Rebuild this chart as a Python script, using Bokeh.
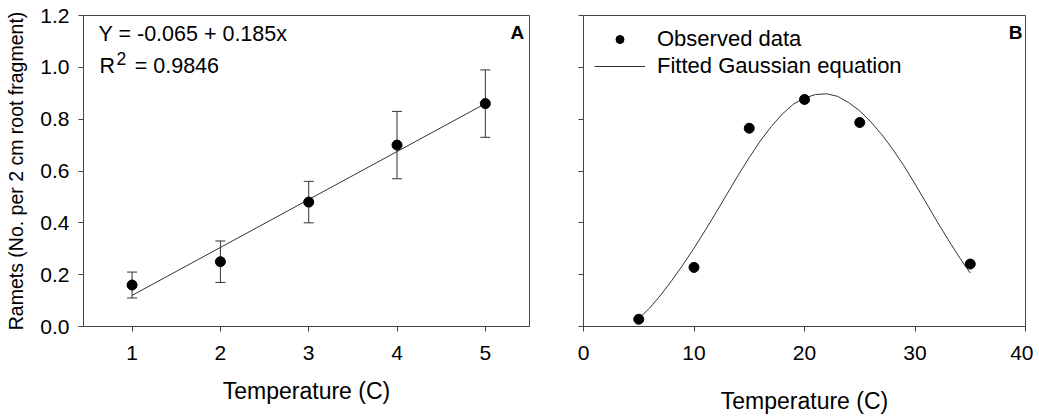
from bokeh.plotting import figure
from bokeh.models import (ColumnDataSource, Whisker, TeeHead, Label, Legend, LegendItem,
                          FixedTicker, NumeralTickFormatter, Range1d, CustomJSTickFormatter)
from bokeh.layouts import row
from bokeh.embed import file_html
from bokeh.resources import INLINE

# ---- Data panel A ----
a_x = [1, 2, 3, 4, 5]
a_y = [0.16, 0.25, 0.48, 0.70, 0.86]
a_upper = [0.21, 0.33, 0.56, 0.83, 0.99]
a_lower = [0.11, 0.17, 0.40, 0.57, 0.73]
fit_x = [1, 5]
fit_y = [-0.065 + 0.185 * 1, -0.065 + 0.185 * 5]

# ---- Data panel B ----
b_x = [5, 10, 15, 20, 25, 35]
b_y = [0.028, 0.228, 0.765, 0.876, 0.787, 0.241]
gauss_x = [5, 6, 7, 8, 9, 10, 11, 12, 13, 14, 15, 16, 17, 18, 19, 20,
           21, 22, 23, 24, 25, 26, 27, 28, 29, 30, 31, 32, 33, 34, 35]
gauss_y = [0.030, 0.072, 0.122, 0.178, 0.238, 0.302, 0.370, 0.440, 0.512, 0.584,
           0.652, 0.716, 0.772, 0.820, 0.858, 0.882, 0.895, 0.898, 0.888, 0.864,
           0.832, 0.790, 0.740, 0.683, 0.620, 0.550, 0.478, 0.405, 0.335, 0.268, 0.206]

y_ticks = [0.0, 0.2, 0.4, 0.6, 0.8, 1.0, 1.2]
a_xticks = [1, 2, 3, 4, 5]
b_xticks = [0, 10, 20, 30, 40]

FONT = "Liberation Sans"
AX = "#444444"
LN = "#333333"


def style(p):
    p.grid.visible = False
    p.outline_line_color = AX
    p.outline_line_width = 1
    p.background_fill_color = "white"
    p.border_fill_color = "white"
    for ax in (p.xaxis[0], p.yaxis[0]):
        ax.axis_line_color = AX
        ax.major_tick_line_color = AX
        ax.minor_tick_line_color = None
        ax.major_tick_out = 5
        ax.major_tick_in = 0
        ax.major_label_text_font = FONT
        ax.major_label_text_font_size = "21px"
        ax.major_label_text_color = "black"
        ax.axis_label_text_font = FONT
        ax.axis_label_text_font_style = "normal"
        ax.axis_label_text_color = "black"


# ---------- Panel A ----------
pA = figure(width=545, height=417, output_backend="svg", toolbar_location=None,
            x_range=Range1d(0.45, 5.5), y_range=Range1d(0, 1.2),
            min_border_left=83, min_border_right=16, min_border_top=15, min_border_bottom=91)
style(pA)
pA.xaxis.ticker = FixedTicker(ticks=a_xticks)
pA.yaxis.ticker = FixedTicker(ticks=y_ticks)
pA.yaxis.formatter = NumeralTickFormatter(format="0.0")
pA.xaxis.axis_label = "Temperature (C)"
pA.xaxis.axis_label_text_font_size = "23px"
pA.xaxis.major_label_standoff = 14
pA.xaxis.axis_label_standoff = 15
pA.yaxis.axis_label = "Ramets (No. per 2 cm root fragment)"
pA.yaxis.axis_label_text_font_size = "19.5px"
pA.yaxis.major_label_standoff = 9
pA.yaxis.axis_label_standoff = 10

srcA = ColumnDataSource(dict(x=a_x, y=a_y, upper=a_upper, lower=a_lower))
pA.add_layout(Whisker(base="x", upper="upper", lower="lower", source=srcA,
                      line_color=LN, line_width=1,
                      upper_head=TeeHead(size=10, line_color=LN, line_width=1),
                      lower_head=TeeHead(size=10, line_color=LN, line_width=1)))
pA.line(fit_x, fit_y, line_color=LN, line_width=1)
pA.scatter(x="x", y="y", source=srcA, size=10, color="black")

pA.add_layout(Label(x=0.62, y=1.127, text="Y = -0.065 + 0.185x", text_font=FONT,
                    text_font_size="21.5px", text_baseline="middle", text_color="black"))
pA.add_layout(Label(x=0.631, y=1.005, text="R", text_font=FONT,
                    text_font_size="21.5px", text_baseline="middle", text_color="black"))
pA.add_layout(Label(x=0.825, y=1.034, text="2", text_font=FONT,
                    text_font_size="17.5px", text_baseline="middle", text_color="black"))
pA.add_layout(Label(x=1.03, y=1.005, text="= 0.9846", text_font=FONT,
                    text_font_size="21.5px", text_baseline="middle", text_color="black"))
pA.add_layout(Label(x=5.441, y=1.136, text="A", text_font=FONT, text_font_style="bold",
                    text_font_size="19px", text_align="right", text_baseline="middle",
                    text_color="black"))

# ---------- Panel B ----------
pB = figure(width=488, height=417, output_backend="svg", toolbar_location=None,
            x_range=Range1d(0, 40), y_range=Range1d(0, 1.2),
            min_border_left=38, min_border_right=8, min_border_top=15, min_border_bottom=91)
style(pB)
pB.xaxis.ticker = FixedTicker(ticks=b_xticks)
pB.yaxis.ticker = FixedTicker(ticks=y_ticks)
pB.yaxis.formatter = CustomJSTickFormatter(code="return ''")
pB.xaxis.axis_label = "Temperature (C)"
pB.xaxis.axis_label_text_font_size = "23px"
pB.xaxis.major_label_standoff = 14
pB.xaxis.axis_label_standoff = 25

r_line = pB.line(gauss_x, gauss_y, line_color=LN, line_width=1)
r_pts = pB.scatter(b_x, b_y, size=10, color="black")

leg = Legend(items=[LegendItem(label="Observed data", renderers=[r_pts]),
                    LegendItem(label="Fitted Gaussian equation", renderers=[r_line])],
             location="top_left", margin=11, padding=0, spacing=1,
             glyph_width=51, glyph_height=20, label_height=20, label_standoff=12,
             label_text_font=FONT, label_text_font_size="22px", label_text_color="black",
             border_line_color=None, background_fill_alpha=0)
pB.add_layout(leg)

pB.add_layout(Label(x=39.73, y=1.136, text="B", text_font=FONT, text_font_style="bold",
                    text_font_size="19px", text_align="right", text_baseline="middle",
                    text_color="black"))

layout = row(pA, pB)
open("out.html", "w").write(file_html(layout, INLINE))
